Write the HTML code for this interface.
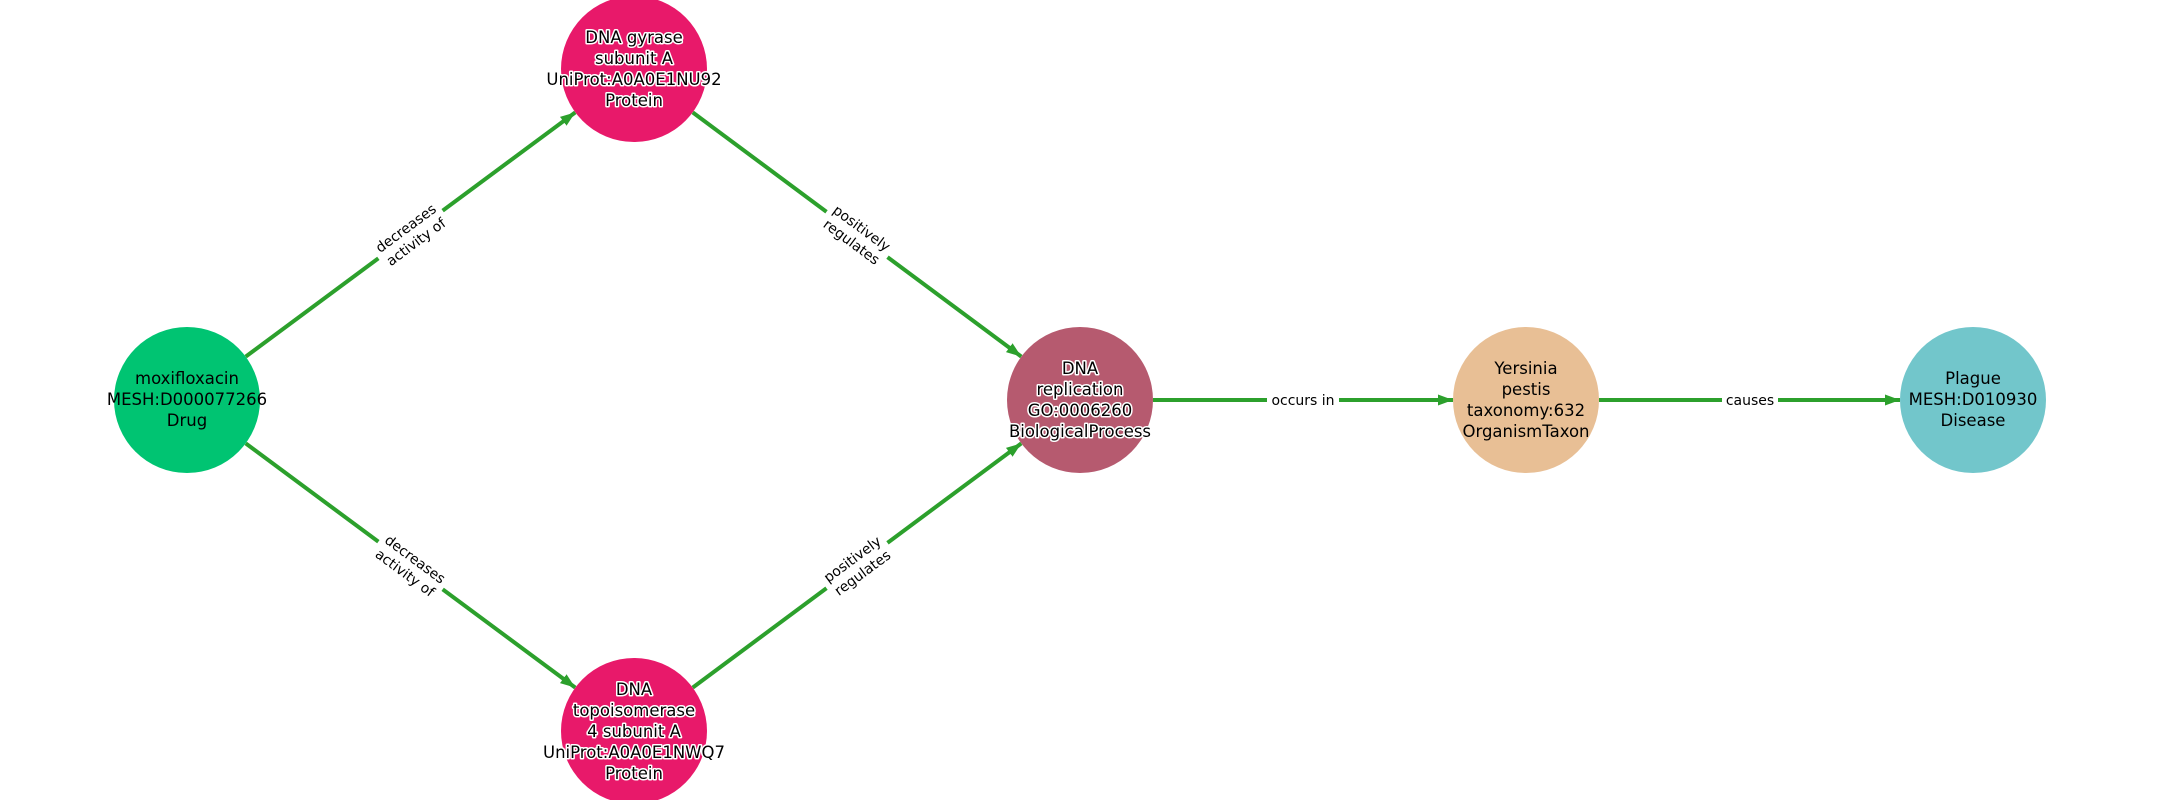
<!DOCTYPE html>
<html><head><style>html,body{margin:0;padding:0;background:#fff}svg{display:block}</style></head>
<body>
<svg width="2160" height="800" viewBox="0 0 2160 800" xmlns="http://www.w3.org/2000/svg" font-family="DejaVu Sans, Liberation Sans, sans-serif">
<defs>
<marker id="a" markerUnits="userSpaceOnUse" markerWidth="20" markerHeight="14" refX="15" refY="7" orient="auto">
<path d="M0,1.5 L15,7 L0,12.5 z" fill="#2ca02c"/>
</marker>
</defs>
<g stroke="#2ca02c" stroke-width="4" fill="none" marker-end="url(#a)">
<line x1="245.7" y1="356.6" x2="575.3" y2="112.4"/>
<line x1="245.7" y1="443.4" x2="575.3" y2="687.6"/>
<line x1="692.7" y1="112.4" x2="1021.3" y2="356.6"/>
<line x1="692.7" y1="687.6" x2="1021.3" y2="443.4"/>
<line x1="1153" y1="400" x2="1453" y2="400"/>
<line x1="1599" y1="400" x2="1900" y2="400"/>
</g>
<g font-size="14" text-anchor="middle" fill="#000">
<g transform="translate(410.5,234.5) rotate(-36.5)"><rect x="-40" y="-19" width="80" height="38" fill="#fff"/><text y="-3">decreases</text><text y="14">activity of</text></g>
<g transform="translate(410.5,565.5) rotate(36.5)"><rect x="-40" y="-19" width="80" height="38" fill="#fff"/><text y="-3">decreases</text><text y="14">activity of</text></g>
<g transform="translate(857,234.5) rotate(36.5)"><rect x="-38" y="-19" width="76" height="38" fill="#fff"/><text y="-3">positively</text><text y="14">regulates</text></g>
<g transform="translate(857,565.5) rotate(-36.5)"><rect x="-38" y="-19" width="76" height="38" fill="#fff"/><text y="-3">positively</text><text y="14">regulates</text></g>
<g transform="translate(1303,400)"><rect x="-36" y="-10" width="72" height="20" fill="#fff"/><text y="5">occurs in</text></g>
<g transform="translate(1750,400)"><rect x="-28" y="-10" width="56" height="20" fill="#fff"/><text y="5">causes</text></g>
</g>
<circle cx="187" cy="400" r="73" fill="#00c472"/>
<circle cx="634" cy="69" r="73" fill="#e8196a"/>
<circle cx="634" cy="731" r="73" fill="#e8196a"/>
<circle cx="1080" cy="400" r="73" fill="#b65a6f"/>
<circle cx="1526" cy="400" r="73" fill="#e8bf95"/>
<circle cx="1973" cy="400" r="73" fill="#72c6cb"/>
<g font-size="16.5" text-anchor="middle" fill="#000">
<text x="187" y="384">moxifloxacin</text><text x="187" y="405">MESH:D000077266</text><text x="187" y="426">Drug</text>
<text x="1526" y="374">Yersinia</text><text x="1526" y="395">pestis</text><text x="1526" y="416">taxonomy:632</text><text x="1526" y="437">OrganismTaxon</text>
<text x="1973" y="384">Plague</text><text x="1973" y="405">MESH:D010930</text><text x="1973" y="426">Disease</text>
</g>
<g font-size="16.5" text-anchor="middle" fill="#000" stroke="#fff" stroke-width="3" paint-order="stroke" stroke-linejoin="round">
<text x="634" y="43">DNA gyrase</text><text x="634" y="64">subunit A</text><text x="634" y="85">UniProt:A0A0E1NU92</text><text x="634" y="106">Protein</text>
<text x="634" y="695">DNA</text><text x="634" y="716">topoisomerase</text><text x="634" y="737">4 subunit A</text><text x="634" y="758">UniProt:A0A0E1NWQ7</text><text x="634" y="779">Protein</text>
<text x="1080" y="374">DNA</text><text x="1080" y="395">replication</text><text x="1080" y="416">GO:0006260</text><text x="1080" y="437">BiologicalProcess</text>
</g>
</svg>
</body></html>
